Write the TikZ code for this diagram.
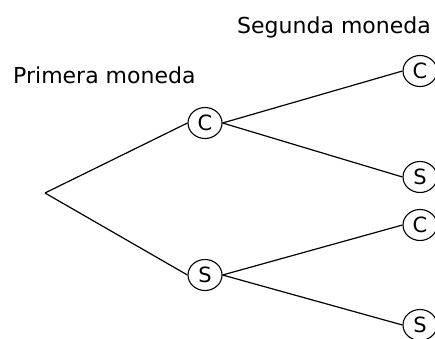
\documentclass[tikz,border=0pt]{standalone}
\usepackage{fontspec}
\setmainfont{DejaVu Sans}
\usetikzlibrary{shapes.geometric}
\begin{document}
\begin{tikzpicture}[x=1pt,y=-1pt,
  coin/.style={ellipse,draw,line width=1.1pt,minimum width=34pt,minimum height=31pt,
    inner sep=0pt,font=\fontsize{21}{25}\selectfont},
  branch/.style={line width=1.2pt},
  heading/.style={anchor=base west,inner sep=0pt,font=\fontsize{22}{26}\selectfont}]
\useasboundingbox (0,0) rectangle (435,338);

% column headings
\node[heading] (h1) at (13,83) {Primera moneda};
\node[heading] (h2) at (237,33) {Segunda moneda};

% tree of outcomes
\coordinate (root) at (45,193);
\node[coin] (c1) at (205,123) {C};
\node[coin] (s1) at (205,275) {S};
\node[coin] (c2) at (420,71) {C};
\node[coin] (s2) at (420,177) {S};
\node[coin] (c3) at (420,225) {C};
\node[coin] (s3) at (420,325) {S};

\draw[branch] (root) -- (c1.west);
\draw[branch] (root) -- (s1.west);
\draw[branch] (c1.east) -- (c2.west);
\draw[branch] (c1.east) -- (s2.west);
\draw[branch] (s1.east) -- (c3.west);
\draw[branch] (s1.east) -- (s3.west);
\end{tikzpicture}
\end{document}
